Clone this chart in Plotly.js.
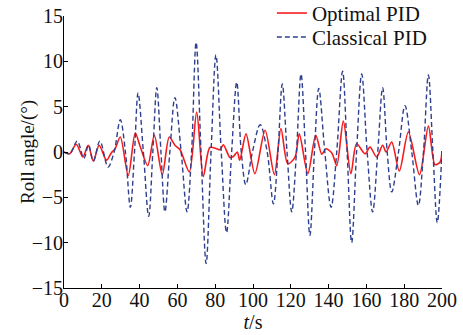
<!DOCTYPE html>
<html>
<head>
<meta charset="utf-8">
<script src="https://cdn.plot.ly/plotly-3.0.1.min.js"></script>
<style>html,body{margin:0;padding:0;background:#fff;}#chart{width:463px;height:335px;}</style>
</head>
<body>
<div id="chart"></div>
<script>
var tOptimal = [0,3,6.5,10,12.8,15.5,18.6,22.5,25,27,29.8,34,37.7,40.4,44.3,47.8,52,55.7,58.7,61.4,66.3,70.2,73.7,77.2,80.8,82.5,84.3,87.8,89.6,91.7,93,96.3,101,106.4,111.3,114.8,118.4,122.2,124.5,129,133.2,136.4,138.5,141.7,144.3,147.8,151.8,154.8,159.3,161.9,165.4,168.6,170.4,173.4,177.4,182.2,188.1,192.8,196.3,199,200];
var rollOptimal = [0,-0.2,0.85,-0.55,0.75,-1.0,0.75,-0.9,-0.1,0.35,1.65,-2.6,2.1,0.55,-1.5,1.85,-2.5,1.65,0.75,0.25,-2.2,4.4,-2.7,0.5,0.35,0.25,0.8,-0.6,-0.5,0,-0.9,2.0,-2.4,2.4,-2.5,2.6,-1.3,-0.6,2.0,-2.4,1.85,-0.25,0.35,-0.1,-1.5,3.4,-2.4,0.9,-0.2,0.55,-0.55,0.75,0,1.1,-2.1,2.2,-2.5,2.85,-1.4,-1.1,0.1];
var tClassical = [0,3,7,10.5,13,15.5,19,23.3,26.5,29.8,32.5,35.1,37.3,39.2,42,44.8,47,49.1,51.3,53.4,56,58.7,62,65.1,67.5,69.9,72.5,75.2,77.8,80.4,83.2,86,88.7,91.4,93.8,96.2,99.7,103.8,107.5,110.8,113.2,115.5,118,120.5,123,125.4,127.8,130.1,132.5,134.8,138,141.3,144.3,147.4,149.8,152.2,154.8,157.5,160.4,163.3,166,168.6,171,173.4,177,180.4,184,187.5,190.2,192.8,195.2,197.5,200];
var rollClassical = [0,-0.2,1.2,-0.7,0.8,-1.0,1.2,-1.65,0,3.55,0,-6.1,0,6.5,0,-7.1,0,7.1,0,-6.6,0,6.0,0,-6.6,0,12.1,0,-12.3,0,10.7,0,-8.9,0,7.7,0,-3.6,0,3.0,0,-5.7,0,7.5,0,-6.6,0,8.6,0,-9.2,0,7.0,0,-6.1,0,8.9,0,-10.0,0,8.6,0,-6.6,0,7.1,0,-4.4,0,5.1,0,-5.9,0,8.5,0,-7.8,0.3];
var xTicks = [0,20,40,60,80,100,120,140,160,180,200];
var yTicks = [-15,-10,-5,0,5,10,15];
var yTitle = 'Roll angle/(°)';
var xTitle = '<i>t</i>/s';

var fontFam = 'Liberation Serif, Times New Roman, serif';
var legFont = {family: fontFam, size: 21, color: '#111'};
var traces = [
  {x: tOptimal, y: rollOptimal, name: 'Optimal PID', type: 'scatter', mode: 'lines', legend: 'legend',
   line: {color: '#f41c1c', width: 1.6, shape: 'spline', smoothing: 0.8}},
  {x: tClassical, y: rollClassical, name: 'Classical PID', type: 'scatter', mode: 'lines', legend: 'legend2',
   line: {color: '#2e3f8f', width: 1.4, dash: '5px,3px', shape: 'spline', smoothing: 1}}
];
var layout = {
  width: 463, height: 335,
  margin: {l: 64, r: 21, t: 16, b: 47, autoexpand: false},
  paper_bgcolor: '#fff', plot_bgcolor: '#fff',
  font: {family: fontFam, size: 20, color: '#111'},
  showlegend: true,
  legend: {x: 0.55, y: 1.085, xanchor: 'left', yanchor: 'top', bgcolor: 'rgba(0,0,0,0)', font: legFont},
  legend2: {x: 0.55, y: 0.997, xanchor: 'left', yanchor: 'top', bgcolor: 'rgba(0,0,0,0)', font: legFont},
  xaxis: {range: [0, 200], tickvals: xTicks, ticktext: xTicks.map(String),
          tickfont: {family: fontFam, size: 20, color: '#111'}, ticklabelstandoff: -6,
          showgrid: false, zeroline: false, showline: true, linecolor: '#000', linewidth: 1,
          ticks: 'inside', ticklen: 4, tickcolor: '#000', mirror: false, automargin: false,
          title: {text: xTitle, font: {family: fontFam, size: 20}, standoff: 0}},
  yaxis: {range: [-15, 15], tickvals: yTicks, ticktext: yTicks.map(function(v){return v<0?'\u2212'+(-v):String(v);}),
          tickfont: {family: fontFam, size: 20, color: '#111'}, ticklabelstandoff: -4,
          showgrid: false, zeroline: false, showline: true, linecolor: '#000', linewidth: 1,
          ticks: 'inside', ticklen: 4, tickcolor: '#000', mirror: false, automargin: false},
  annotations: [{text: yTitle, xref: 'paper', yref: 'paper', x: -0.0952, y: 0.5,
                 xanchor: 'center', yanchor: 'middle', textangle: -90, showarrow: false,
                 font: {family: fontFam, size: 19, color: '#111'}}]
};
Plotly.newPlot('chart', traces, layout, {displayModeBar: false, staticPlot: true});
</script>
</body>
</html>
